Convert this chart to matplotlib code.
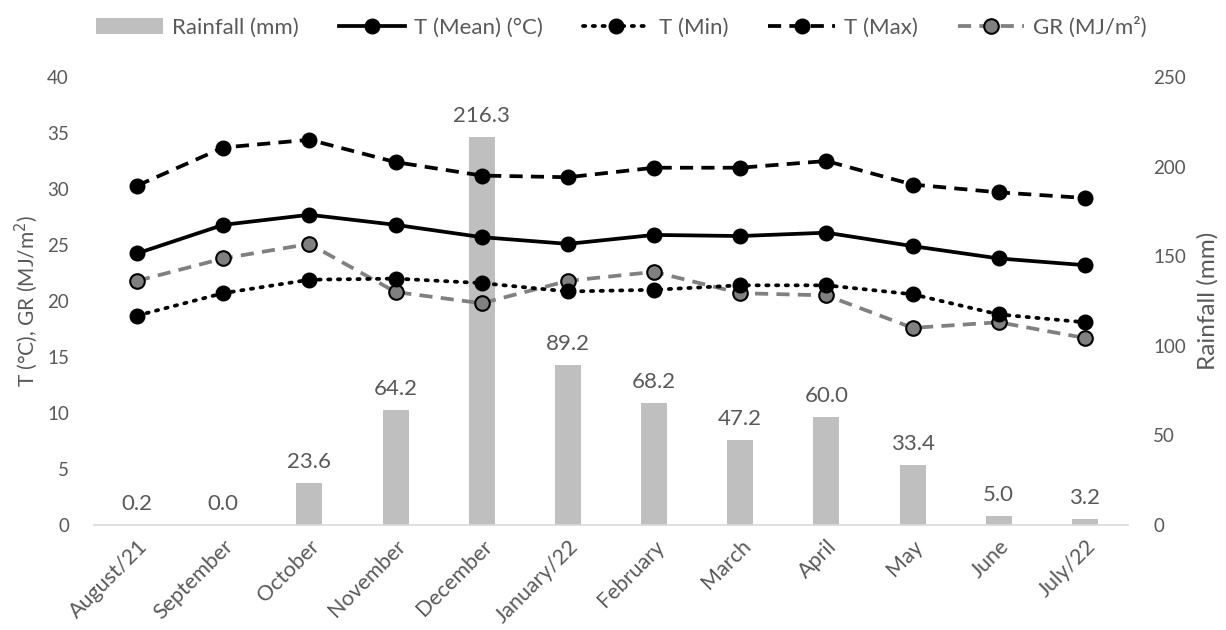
import matplotlib
matplotlib.use("Agg")
import matplotlib.pyplot as plt
import numpy as np
from matplotlib.patches import Patch
from matplotlib.lines import Line2D

months = ["August/21", "September", "October", "November", "December", "January/22",
          "February", "March", "April", "May", "June", "July/22"]
rainfall = [0.2, 0.0, 23.6, 64.2, 216.3, 89.2, 68.2, 47.2, 60.0, 33.4, 5.0, 3.2]
t_mean = [24.25, 26.8, 27.7, 26.8, 25.7, 25.1, 25.9, 25.8, 26.1, 24.9, 23.8, 23.2]
t_min = [18.7, 20.7, 21.9, 22.0, 21.6, 20.85, 21.0, 21.4, 21.4, 20.6, 18.8, 18.1]
t_max = [30.3, 33.7, 34.4, 32.4, 31.2, 31.05, 31.9, 31.9, 32.5, 30.4, 29.7, 29.2]
gr = [21.8, 23.8, 25.1, 20.8, 19.8, 21.8, 22.6, 20.7, 20.5, 17.6, 18.1, 16.7]

plt.rcParams['font.family'] = ['Lato', 'DejaVu Sans']
TXT = '#595959'
FS = 13.5
FS_LAB = 16

fig = plt.figure(figsize=(12.26, 6.3), dpi=100)
ax = fig.add_axes([94/1226, 105/630, (1128-94)/1226, (525-77)/630])
axr = ax.twinx()
ax.set_zorder(axr.get_zorder() + 1)
ax.patch.set_visible(False)

x = np.arange(len(months))
bars = axr.bar(x, rainfall, width=0.3, color='#BFBFBF', zorder=1)
for xi, v in zip(x, rainfall):
    axr.annotate(f"{v:.1f}", (xi, v), xytext=(0, 8), textcoords='offset points',
                 ha='center', va='bottom', fontsize=FS_LAB, color=TXT)

lw = 2.7
ms = 10.5
ax.plot(x, t_max, color='black', lw=lw, ls=(0, (3.5, 2.2)), marker='o', ms=ms,
        mfc='black', mec='black', zorder=5)
ax.plot(x, t_mean, color='black', lw=lw, ls='-', marker='o', ms=ms,
        mfc='black', mec='black', zorder=5)
ax.plot(x, gr, color='#808080', lw=lw, ls=(0, (3.5, 2.2)), marker='o', ms=ms,
        mfc='#808080', mec='black', mew=1.5, zorder=4)
ax.plot(x, t_min, color='black', lw=lw, ls=(0, (0.6, 2.0)), dash_capstyle='round',
        marker='o', ms=ms, mfc='black', mec='black', zorder=5)

ax.set_xlim(-0.5, len(months) - 0.5)
ax.set_ylim(0, 40)
axr.set_ylim(0, 250)
ax.set_yticks(np.arange(0, 41, 5))
axr.set_yticks(np.arange(0, 251, 50))
ax.set_xticks(x)
ax.set_xticklabels(months, rotation=45, ha='right', rotation_mode='anchor')

for a in (ax, axr):
    for s in a.spines.values():
        s.set_visible(False)
    a.tick_params(length=0, labelsize=FS, colors=TXT)
ax.spines['bottom'].set_visible(True)
ax.spines['bottom'].set_color('#D9D9D9')
ax.spines['bottom'].set_linewidth(1.2)
ax.tick_params(axis='y', pad=18)
ax.tick_params(axis='x', pad=8, labelsize=15.5)
axr.tick_params(axis='y', pad=18)

ax.set_ylabel("T (°C), GR (MJ/m$^2$)", fontsize=15, color=TXT, labelpad=5)
axr.set_ylabel("Rainfall (mm)", fontsize=17.5, color=TXT, labelpad=8)

handles = [
    Patch(facecolor='#BFBFBF', edgecolor='none', label='Rainfall (mm)'),
    Line2D([], [], color='black', lw=lw, ls='-', marker='o', ms=ms, label='T (Mean) (°C)'),
    Line2D([], [], color='black', lw=lw, ls=(0, (0.6, 2.0)), dash_capstyle='round',
           marker='o', ms=ms, label='T (Min)'),
    Line2D([], [], color='black', lw=lw, ls=(0, (3.5, 2.2)), marker='o', ms=ms, label='T (Max)'),
    Line2D([], [], color='#808080', lw=lw, ls=(0, (3.5, 2.2)), marker='o', ms=ms,
           mfc='#808080', mec='black', mew=1.5, label='GR (MJ/m²)'),
]
leg = fig.legend(handles=handles, loc='upper center', bbox_to_anchor=(0.507, 1.005),
                 ncol=5, frameon=False, fontsize=FS_LAB, handlelength=3.0,
                 columnspacing=1.8, handletextpad=0.4, labelcolor=TXT)

fig.savefig("out.png", dpi=100)
